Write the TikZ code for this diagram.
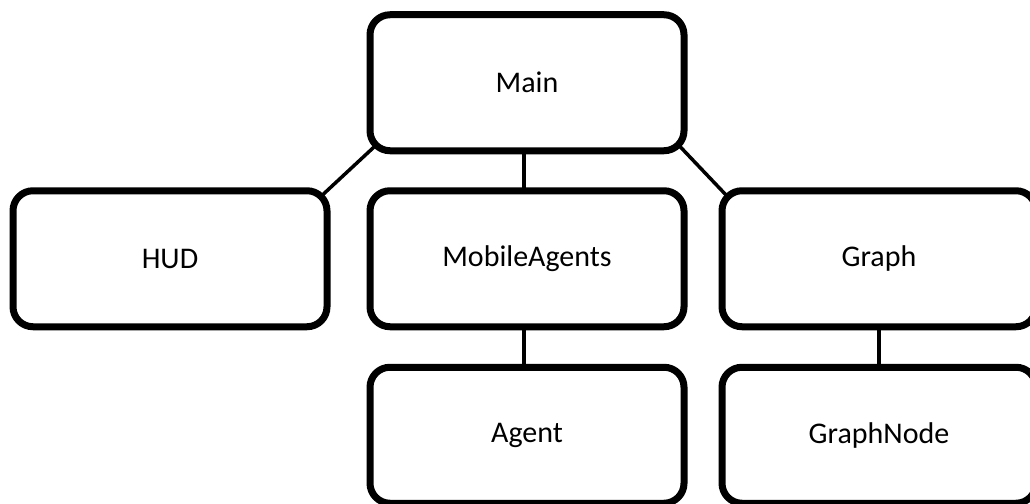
\documentclass[tikz,border=0pt]{standalone}
\usepackage{fontspec}
\setmainfont{Carlito}
\usepackage{tikz}
\usetikzlibrary{positioning, backgrounds}

\begin{document}
\begin{tikzpicture}[
    x=1pt, y=1pt,
    every node/.style={font=\fontsize{30}{36}\selectfont},
    cls/.style={rectangle, draw, fill=white, line width=7pt, rounded corners=20pt,
                minimum width=314pt, minimum height=136pt, outer sep=0pt},
    link/.style={line width=3.5pt},
    diag/.style={link, shorten <=-12pt, shorten >=-12pt},
]
  \path[use as bounding box] (0,0) rectangle (1030,-503);

  \node[cls] (main) at (527,-82.75) {Main};
  \node[cls, below=40pt of main] (agents) {MobileAgents};
  \node[cls, left=43pt of agents] (hud) {HUD};
  \node[cls, right=38pt of agents] (graph) {Graph};
  \node[cls, below=40.5pt of agents] (agent) {Agent};
  \node[cls, below=40.5pt of graph] (gnode) {GraphNode};

  % links sit behind the boxes so the extended ends are hidden
  \begin{scope}[on background layer]
    \draw[diag] (main.south west) -- (hud.north east);
    \draw[diag] (main.south east) -- (graph.north west);
    \draw[link] ([xshift=-3pt]main.south) -- ([xshift=-3pt]agents.north);
    \draw[link] ([xshift=-3pt]agents.south) -- ([xshift=-3pt]agent.north);
    \draw[link] (graph) -- (gnode);
  \end{scope}
\end{tikzpicture}
\end{document}
